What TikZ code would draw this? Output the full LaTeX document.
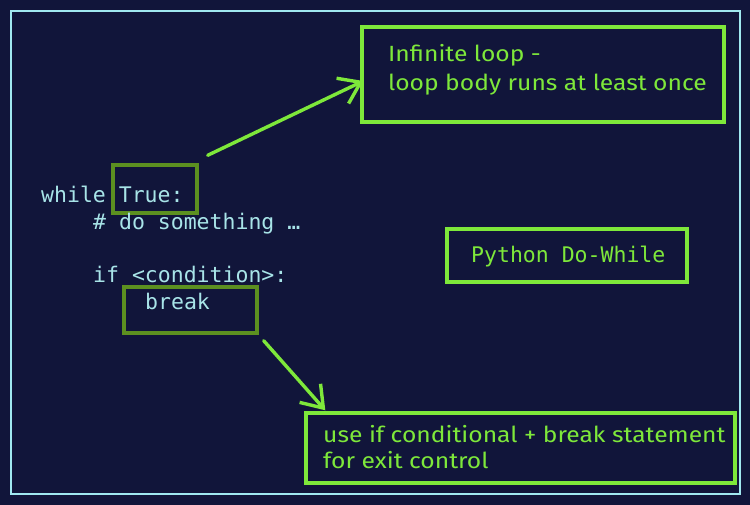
\documentclass[tikz,border=0pt]{standalone}
\usepackage{fontspec}
\setmonofont{DejaVu Sans Mono}
\newfontfamily\handfont[FakeStretch=1.12]{Fira Sans}
\usetikzlibrary{arrows.meta}
\definecolor{bgnavy}{HTML}{11153A}
\definecolor{framecyan}{HTML}{A0E8F0}
\definecolor{codecyan}{HTML}{A8E4E8}
\definecolor{brightgreen}{HTML}{7EE83A}
\definecolor{olivegreen}{HTML}{5C9020}
\begin{document}
\begin{tikzpicture}[x=1pt,y=-1pt,
  codetext/.style={anchor=base west,inner sep=0pt,text=codecyan,font=\ttfamily\fontsize{21.5}{25}\selectfont},
  titletext/.style={anchor=base west,inner sep=0pt,text=brightgreen,font=\ttfamily\fontsize{21.5}{25}\selectfont},
  handtext/.style={anchor=base west,inner sep=0pt,text=brightgreen,font=\handfont\fontsize{22}{26}\selectfont},
  greenbox/.style={draw=brightgreen,line width=3.4pt,rectangle,inner sep=0pt},
  olivebox/.style={draw=olivegreen,line width=3.4pt,rectangle,inner sep=0pt},
  arr/.style={draw=brightgreen,line width=3.4pt,line cap=round,-{Straight Barb[length=20pt,width=28pt,line width=3.4pt]}}
]
\useasboundingbox (0,0) rectangle (750,505);
\fill[bgnavy] (0,0) rectangle (750,505);
\node[draw=framecyan,line width=2.4pt,rectangle,inner sep=0pt,minimum width=729pt,minimum height=483pt] (frame) at (375.5,252.5) {};

% boxes
\node[greenbox,minimum width=362pt,minimum height=95pt] (topbox) at (543,74.5) {};
\node[greenbox,minimum width=240pt,minimum height=53pt] (titlebox) at (567,255.5) {};
\node[greenbox,minimum width=429pt,minimum height=70pt] (botbox) at (520.5,448) {};
\node[olivebox,minimum width=84pt,minimum height=48pt] (truebox) at (155,189) {};
\node[olivebox,minimum width=133pt,minimum height=46pt] (breakbox) at (190.5,310) {};

% code
\node[codetext] (l1) at (41,203) {while True:};
\node[codetext] (l2) at (93,230) {\# do something …};
\node[codetext] (l3) at (93,283) {if <condition>:};
\node[codetext] (l4) at (145,309) {break};

% title
\node[titletext] (title) at (471,262) {Python Do-While};

% notes
\node[handtext] (n1) at (388,62) {Infinite loop -};
\node[handtext] (n2) at (388,91) {loop body runs at least once};
\node[handtext] (n3) at (323,442) {use if conditional + break statement};
\node[handtext] (n4) at (323,468) {for exit control};

% arrows
\draw[arr] ([shift={(9,-8)}]truebox.north east) -- ([shift={(3,6.5)}]topbox.west);
\draw[arr] ([shift={(5,6)}]breakbox.south east) -- ([shift={(21,-1)}]botbox.north west);
\end{tikzpicture}
\end{document}
